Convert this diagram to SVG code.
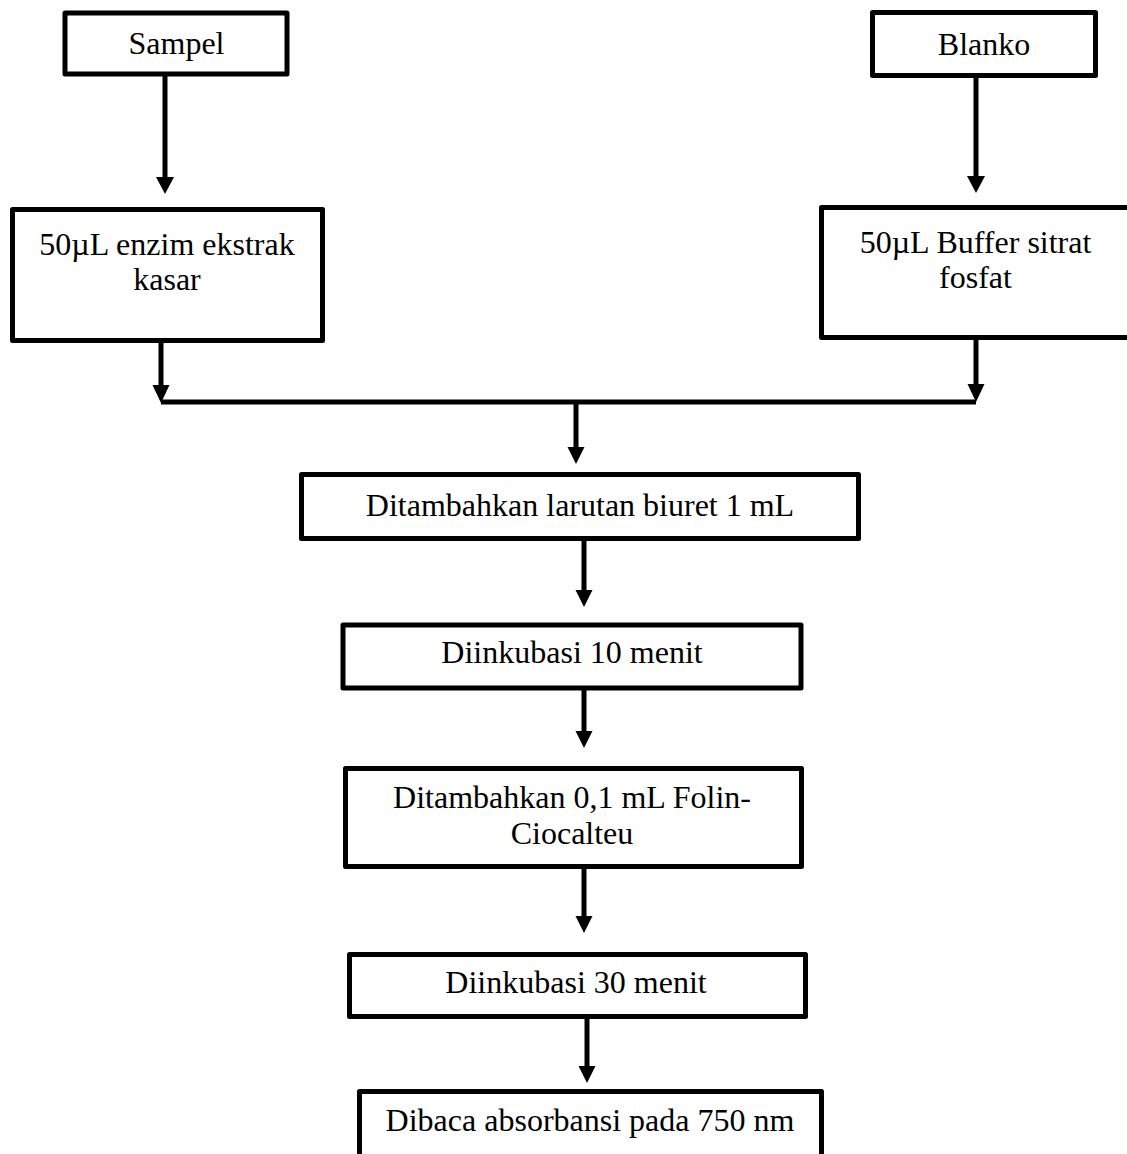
<svg xmlns="http://www.w3.org/2000/svg" width="1127" height="1154" viewBox="0 0 1127 1154">
<style>
.box{fill:#fff;stroke:#000;stroke-width:5;stroke-linejoin:round}
.t{font-family:"Liberation Serif","Times New Roman",serif;font-size:32px;fill:#000;text-anchor:middle}
.c{fill:none;stroke:#000;stroke-width:5}
.h{fill:#000}
</style>
<rect width="1127" height="1154" fill="#fff"/>
<g id="connectors">
<line class="c" x1="165" y1="76" x2="165" y2="180"/>
<polygon class="h" points="156,177 174,177 165,194"/>
<line class="c" x1="976" y1="76" x2="976" y2="180"/>
<polygon class="h" points="967,176 985,176 976,193"/>
<line class="c" x1="161" y1="341" x2="161" y2="390"/>
<polygon class="h" points="152.5,385 169.5,385 161,403"/>
<line class="c" x1="976" y1="338" x2="976" y2="390"/>
<polygon class="h" points="967.5,384 984.5,384 976,402"/>
<line class="c" x1="161" y1="402" x2="976" y2="402"/>
<line class="c" x1="576" y1="402" x2="576" y2="450"/>
<polygon class="h" points="567.5,447 584.5,447 576,464"/>
<line class="c" x1="584" y1="540" x2="584" y2="595"/>
<polygon class="h" points="575.5,590 592.5,590 584,607"/>
<line class="c" x1="584" y1="688" x2="584" y2="735"/>
<polygon class="h" points="575.5,731 592.5,731 584,748"/>
<line class="c" x1="584" y1="867" x2="584" y2="920"/>
<polygon class="h" points="575.5,916 592.5,916 584,933"/>
<line class="c" x1="587" y1="1017" x2="587" y2="1070"/>
<polygon class="h" points="578.5,1066 595.5,1066 587,1083"/>
</g>
<g id="n_sampel"><rect class="box" x="65" y="13" width="222" height="61"/><text class="t" x="176.5" y="54">Sampel</text></g>
<g id="n_blanko"><rect class="box" x="872.5" y="12.5" width="223" height="63"/><text class="t" x="984" y="55">Blanko</text></g>
<g id="n_enzim"><rect class="box" x="12.5" y="209.5" width="310" height="131"/><text class="t" x="167" y="255">50µL enzim ekstrak</text><text class="t" x="167" y="290">kasar</text></g>
<g id="n_buffer"><rect class="box" x="821.5" y="207.5" width="320" height="130"/><text class="t" x="975.5" y="253">50µL Buffer sitrat</text><text class="t" x="975.5" y="288">fosfat</text></g>
<g id="n_biuret"><rect class="box" x="301.5" y="474.5" width="557" height="64"/><text class="t" x="580" y="516">Ditambahkan larutan biuret 1 mL</text></g>
<g id="n_ink10"><rect class="box" x="343" y="625" width="458" height="63"/><text class="t" x="572" y="663">Diinkubasi 10 menit</text></g>
<g id="n_folin"><rect class="box" x="345.5" y="768.5" width="456" height="98"/><text class="t" x="572" y="808">Ditambahkan 0,1 mL Folin-</text><text class="t" x="572" y="844">Ciocalteu</text></g>
<g id="n_ink30"><rect class="box" x="349.5" y="954.5" width="456" height="62"/><text class="t" x="576" y="993">Diinkubasi 30 menit</text></g>
<g id="n_baca"><rect class="box" x="359.5" y="1091.5" width="462" height="80"/><text class="t" x="590" y="1131">Dibaca absorbansi pada 750 nm</text></g>
</svg>
